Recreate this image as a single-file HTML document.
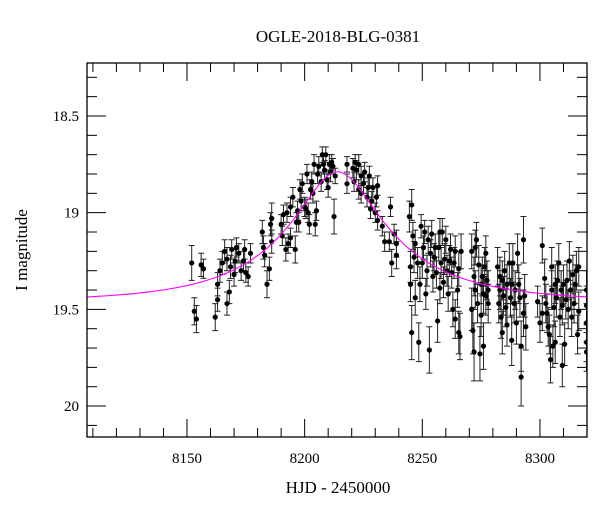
<!DOCTYPE html>
<html><head><meta charset="utf-8"><style>
body{margin:0;background:#fff}
svg text{font-family:"Liberation Serif",serif;fill:#000}
</style></head><body>
<svg id="chart" width="600" height="512" xmlns="http://www.w3.org/2000/svg">
<text x="338" y="42" text-anchor="middle" font-size="17">OGLE-2018-BLG-0381</text>
<text x="338" y="493" text-anchor="middle" font-size="17">HJD - 2450000</text>
<text transform="translate(27,250) rotate(-90)" text-anchor="middle" font-size="17">I magnitude</text>
<g id="plot"></g>
</svg>
<script>
const xTicks=[8150,8200,8250,8300];
const yTicks=[18.5,19,19.5,20];
const xTickLabels=["8150","8200","8250","8300"];
const yTickLabels=["18.5","19","19.5","20"];
const modelParams={t0:8214,u0:0.3,tE:55,fs:0.35,m0:19.46};
const obs=[
[8152,19.26,0.09],[8153.1,19.51,0.07],[8154,19.55,0.07],[8156,19.27,0.06],[8157,19.29,0.05],
[8162,19.54,0.07],[8163,19.37,0.06],[8163,19.45,0.06],[8164,19.30,0.06],[8165,19.26,0.06],[8166,19.20,0.06],[8167,19.24,0.06],[8167,19.47,0.06],[8168,19.41,0.06],[8168.5,19.28,0.06],[8169,19.19,0.05],[8170,19.32,0.06],[8170.5,19.25,0.06],[8171,19.18,0.05],[8172,19.21,0.05],[8173,19.30,0.05],[8174,19.25,0.05],[8174.5,19.19,0.05],[8175,19.31,0.05],[8176,19.33,0.05],[8177,19.21,0.05],
[8182,19.10,0.06],[8182.5,19.18,0.06],[8183,19.22,0.06],[8184,19.37,0.07],[8185,19.29,0.06],[8185.5,19.06,0.06],[8186,19.15,0.06],[8186,19.03,0.08],
[8190,19.06,0.05],[8190.5,19.12,0.05],[8191,19.01,0.05],[8192,19.19,0.06],[8192.5,19.00,0.05],[8193,19.16,0.05],[8194,18.97,0.05],[8194,19.13,0.05],[8195,18.92,0.05],[8196,19.19,0.07],[8196.5,19.05,0.05],[8197,18.99,0.05],[8197.5,19.05,0.05],[8198,18.88,0.05],[8198.5,18.94,0.05],[8199,18.85,0.05],[8200,18.97,0.05],[8200.5,18.98,0.05],[8201,18.80,0.05],[8201.5,19.00,0.05],[8202,19.06,0.05],[8202.5,18.88,0.05],[8203,18.84,0.05],[8203.5,18.90,0.05],[8204,18.75,0.05],[8204.5,19.06,0.06],[8205,18.99,0.05],[8205.5,18.80,0.05],[8206,18.76,0.05],[8207,18.84,0.05],[8207.5,18.70,0.04],[8208,18.75,0.05],[8208.5,18.78,0.05],[8209,18.70,0.04],[8209.5,18.83,0.05],[8210,18.87,0.05],[8210.5,18.75,0.05],[8211,18.79,0.05],[8211.5,18.74,0.04],[8212,18.76,0.04],[8212.5,19.02,0.09],[8213,18.81,0.04],
[8218,18.75,0.04],[8218,18.85,0.05],[8220.5,18.77,0.05],[8221,18.84,0.05],[8221.5,18.74,0.04],[8222,18.78,0.05],[8223,18.88,0.05],[8223,18.75,0.05],[8224,18.81,0.05],[8224,18.90,0.05],[8225,18.85,0.05],[8225.5,18.79,0.05],[8226.5,18.92,0.05],[8227,18.87,0.05],[8227.5,18.81,0.05],[8228,18.98,0.05],[8228.5,18.94,0.05],[8229,18.87,0.05],[8230,19.00,0.05],[8230.5,18.92,0.05],[8231,18.86,0.05],[8231,19.04,0.05],[8233,19.07,0.05],[8234,19.15,0.05],[8236,19.15,0.05],[8236.5,18.97,0.05],[8237,19.26,0.07],[8238,19.11,0.05],[8239,19.22,0.07],[8239,19.16,0.07],
[8244.5,19.02,0.08],[8245,19.28,0.08],[8245,19.37,0.09],[8245.5,18.96,0.08],[8245.5,19.62,0.14],[8246,19.12,0.07],[8246.5,19.23,0.08],[8247,19.44,0.09],[8247,19.16,0.07],[8248,19.26,0.08],[8248.5,19.67,0.10],[8249,19.37,0.09],[8249.5,19.07,0.06],[8250,19.26,0.08],[8250.5,19.18,0.06],[8251,19.10,0.06],[8251.5,19.42,0.08],[8252,19.30,0.08],[8252.5,19.14,0.07],[8253,19.71,0.12],[8253.5,19.21,0.07],[8254,19.11,0.07],[8254.5,19.33,0.08],[8255,19.23,0.07],[8255.5,19.18,0.07],[8256,19.31,0.08],[8256.5,19.56,0.11],[8257,19.18,0.07],[8257.5,19.10,0.07],[8257.5,19.39,0.08],[8258,19.26,0.08],[8258.5,19.10,0.07],[8259,19.36,0.08],[8259.5,19.24,0.08],[8260,19.14,0.07],[8260.5,19.30,0.08],[8261,19.42,0.09],[8261.5,19.25,0.08],[8262,19.19,0.08],[8262.5,19.31,0.08],[8263,19.50,0.09],[8263.5,19.26,0.08],[8264,19.20,0.08],[8264,19.55,0.10],[8265,19.40,0.09],[8265.5,19.29,0.09],[8265.5,19.62,0.11],[8266,19.64,0.12],[8266.5,19.20,0.09],
[8271,19.20,0.09],[8271,19.50,0.11],[8271.5,19.61,0.12],[8272,19.33,0.10],[8272,19.72,0.15],[8272.5,19.18,0.09],[8272.5,19.40,0.10],[8273,19.14,0.09],[8273.5,19.47,0.10],[8274,19.27,0.10],[8274.5,19.73,0.14],[8275,19.37,0.10],[8275,19.53,0.11],[8275.5,19.33,0.10],[8276,19.42,0.10],[8276,19.69,0.12],[8276.5,19.28,0.10],[8277,19.43,0.10],[8277,19.21,0.09],[8277.5,19.35,0.10],[8278,19.47,0.10],[8278,19.40,0.10],
[8282,19.28,0.10],[8282.5,19.47,0.10],[8283,19.33,0.10],[8283,19.40,0.10],[8283.5,19.54,0.11],[8284,19.35,0.10],[8284,19.62,0.11],[8284.5,19.43,0.10],[8285,19.30,0.10],[8285.5,19.49,0.10],[8286,19.37,0.10],[8286,19.58,0.11],[8287,19.26,0.10],[8287.5,19.44,0.10],[8288,19.37,0.10],[8288,19.66,0.13],[8288.5,19.26,0.10],[8289,19.47,0.10],[8289.5,19.40,0.10],[8290,19.57,0.11],[8290.5,19.21,0.10],[8291,19.37,0.10],[8291.5,19.44,0.10],[8292,19.69,0.13],[8292,19.85,0.15],[8293,19.52,0.12],[8293,19.14,0.12],[8293.5,19.43,0.11],[8294,19.59,0.12],
[8299,19.46,0.08],[8300,19.57,0.10],[8301,19.17,0.09],[8301,19.52,0.09],[8302,19.34,0.10],[8302.5,19.47,0.10],[8303,19.52,0.10],[8303.5,19.59,0.10],[8304,19.63,0.10],[8304.5,19.76,0.12],[8305,19.28,0.10],[8305,19.40,0.10],[8305.5,19.69,0.11],[8306,19.49,0.10],[8306.5,19.37,0.10],[8306.5,19.67,0.11],[8307,19.44,0.10],[8307.5,19.35,0.10],[8308,19.26,0.10],[8308.5,19.54,0.10],[8309,19.40,0.10],[8309.5,19.48,0.10],[8309.5,19.79,0.11],[8310,19.37,0.10],[8310.5,19.68,0.11],[8311,19.45,0.10],[8311.5,19.35,0.10],[8312,19.50,0.10],[8312.5,19.25,0.10],[8313,19.40,0.10],[8313.5,19.54,0.10],[8314,19.32,0.10],[8314.5,19.47,0.10],[8315,19.37,0.10],[8315.5,19.30,0.10],[8316,19.63,0.10],[8316.5,19.51,0.10],[8316.5,19.28,0.10],
[8319.8,19.40,0.10],[8319.8,19.48,0.10],[8319.8,19.57,0.10],[8319.8,19.67,0.10],[8319.8,19.72,0.10]
];
const L=87,R=587,T=63,B=437;
const xMin=8107.5,xMax=8320,yMin=18.226,yMax=20.16;
const sx=t=>L+(t-xMin)/(xMax-xMin)*(R-L);
const sy=m=>T+(m-yMin)/(yMax-yMin)*(B-T);
const NS="http://www.w3.org/2000/svg";
const g=document.getElementById('plot');
function mk(tag,attrs,parent){const e=document.createElementNS(NS,tag);for(const k in attrs)e.setAttribute(k,attrs[k]);(parent||g).appendChild(e);return e;}
const defs=mk('defs',{});
const cp=mk('clipPath',{id:'clip'},defs);mk('rect',{x:L,y:T,width:R-L,height:B-T},cp);
// ticks
const tk=mk('g',{stroke:'#000','stroke-width':1});


for(let t=8110;t<=8320;t+=10){const x=sx(t);const maj=xTicks.includes(t);const len=maj?18:9;
 mk('line',{x1:x,x2:x,y1:B,y2:B-len},tk);mk('line',{x1:x,x2:x,y1:T,y2:T+len},tk);}
for(let i=Math.ceil(yMin*10);i<=Math.floor(yMax*10);i++){const m=i/10;const y=sy(m);const maj=(i%5===0);const len=maj?19:10;
 mk('line',{x1:L,x2:L+len,y1:y,y2:y},tk);mk('line',{x1:R,x2:R-len,y1:y,y2:y},tk);}
xTicks.forEach((t,i)=>{const e=mk('text',{x:sx(t),y:463,'text-anchor':'middle','font-size':15});e.textContent=xTickLabels[i];
 
 });
yTicks.forEach((m,i)=>{const e=mk('text',{x:79,y:sy(m)+5,'text-anchor':'end','font-size':15});e.textContent=yTickLabels[i];
 
 });
// data
const dg=mk('g',{'clip-path':'url(#clip)'});


obs.forEach(p=>{const x=sx(p[0]),y1=sy(p[1]-p[2]),y2=sy(p[1]+p[2]);
 const eb=mk('path',{d:`M${x},${y1}V${y2}M${x-3},${y1}H${x+3}M${x-3},${y2}H${x+3}`,stroke:'#222','stroke-width':1,fill:'none'},dg);
 
 });
obs.forEach(p=>{const c=mk('circle',{cx:sx(p[0]),cy:sy(p[1]),r:2.6,fill:'#000'},dg);
 
 });
// model
const P=modelParams;let d='';
for(let t=xMin;t<=xMax;t+=0.5){const u=Math.sqrt(P.u0*P.u0+((t-P.t0)/P.tE)**2);const A=(u*u+2)/(u*Math.sqrt(u*u+4));
 const m=P.m0-2.5*Math.log10(1+P.fs*(A-1));d+=(d?'L':'M')+sx(t).toFixed(2)+','+sy(m).toFixed(2);}
const ml=mk('path',{d:d,stroke:'#ff00ff','stroke-width':1.1,fill:'none'},dg);


const fr=mk('rect',{x:L,y:T,width:R-L,height:B-T,fill:'none',stroke:'#000','stroke-width':1.3});


</script>
</body></html>
